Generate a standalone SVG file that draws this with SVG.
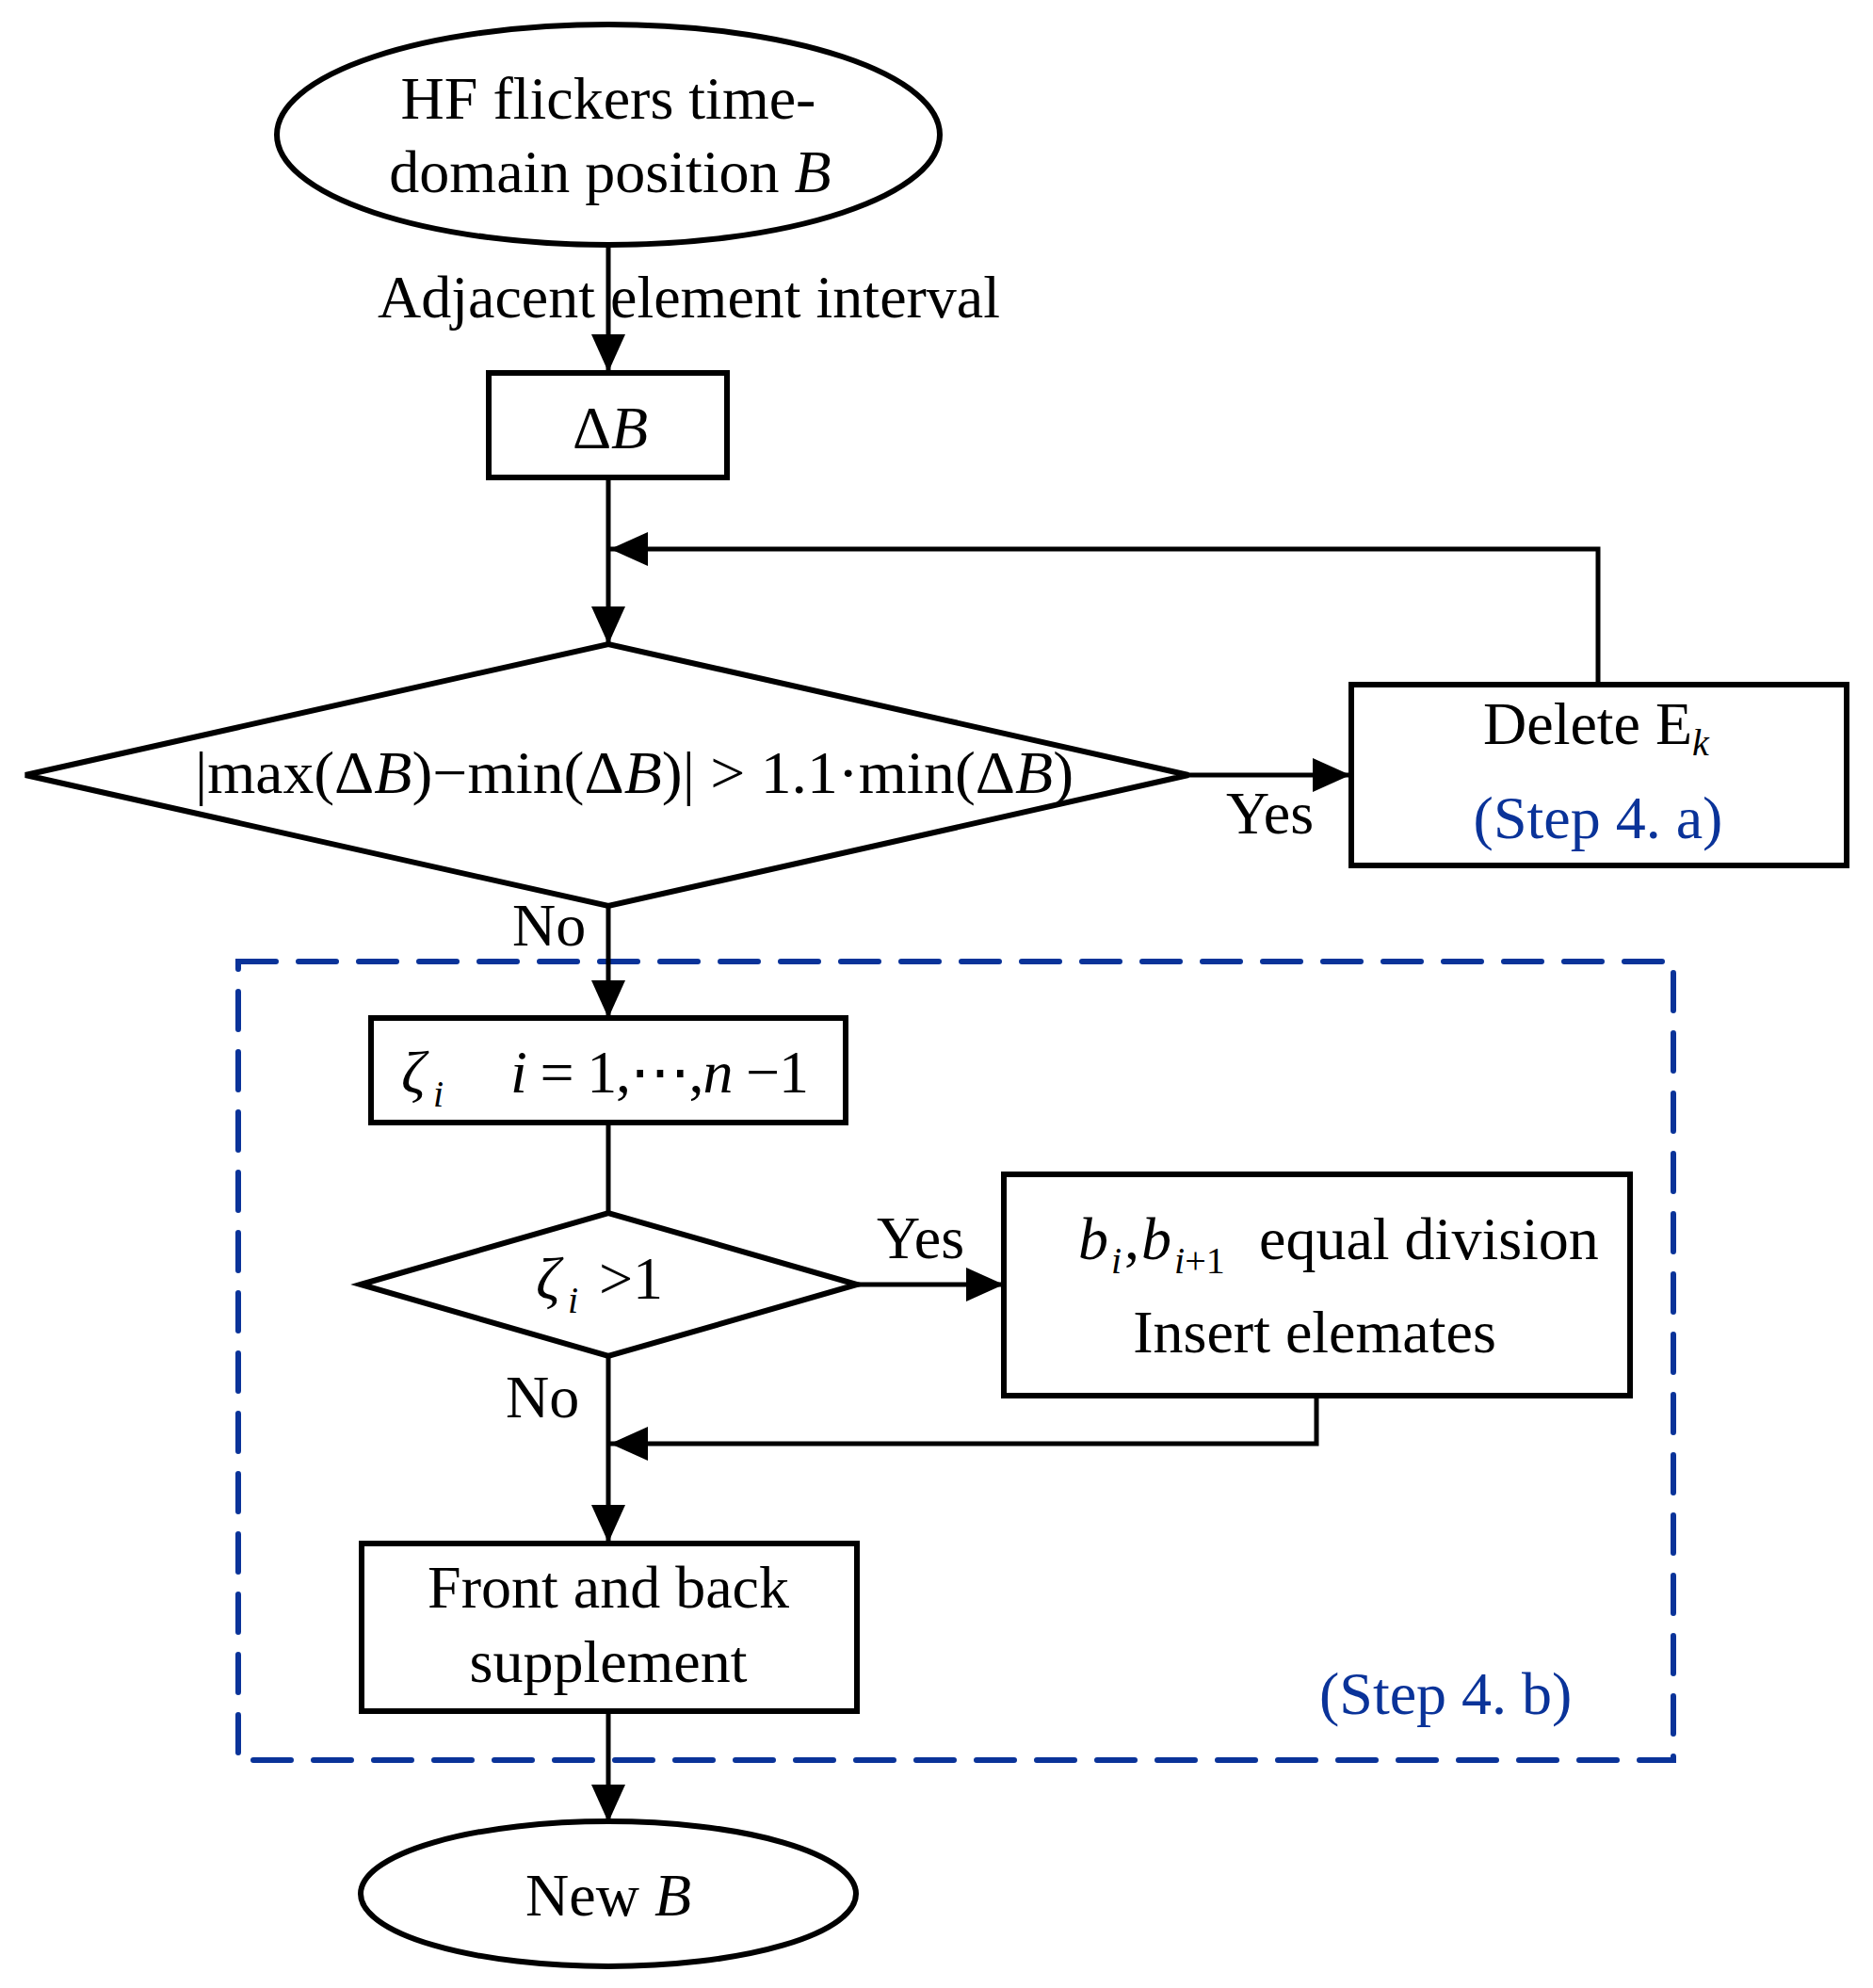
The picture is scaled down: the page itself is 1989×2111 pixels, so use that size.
<svg xmlns="http://www.w3.org/2000/svg" width="1989" height="2111" viewBox="0 0 1989 2111">
<style>
  .shape { fill: #ffffff; stroke: #000000; stroke-width: 6; }
  .conn { fill: none; stroke: #000000; stroke-width: 5; }
  .t { font-family: "Liberation Serif", "Times New Roman", serif; font-size: 64px; fill: #000000; }
  .it { font-style: italic; }
  .sub { font-family: "Liberation Serif", "Times New Roman", serif; font-size: 40px; font-style: italic; fill: #000000; }
  .blue { fill: #0a3399; }
  .group { fill: none; stroke: #0a3399; stroke-width: 6; stroke-dasharray: 40 24; stroke-linecap: round; }
</style>
<defs>
  <marker id="arrow" markerUnits="userSpaceOnUse" markerWidth="40" markerHeight="36" refX="40" refY="18" orient="auto">
    <path d="M0,0 L40,18 L0,36 z" fill="#000000"/>
  </marker>
</defs>
<rect width="1989" height="2111" fill="#ffffff"/>

<g id="step4b-group">
  <rect class="group" x="253" y="1021" width="1524" height="848"/>
  <text class="t blue" x="1401" y="1820">(Step 4. b)</text>
</g>

<g id="connectors">
  <line class="conn" x1="646" y1="261" x2="646" y2="395" marker-end="url(#arrow)"/>
  <line class="conn" x1="646" y1="507" x2="646" y2="684" marker-end="url(#arrow)"/>
  <polyline class="conn" points="1697,727 1697,583 648,583" marker-end="url(#arrow)"/>
  <line class="conn" x1="1262" y1="823" x2="1434" y2="823" marker-end="url(#arrow)"/>
  <line class="conn" x1="646" y1="962" x2="646" y2="1081" marker-end="url(#arrow)"/>
  <line class="conn" x1="646" y1="1192" x2="646" y2="1288"/>
  <line class="conn" x1="910" y1="1364" x2="1066" y2="1364" marker-end="url(#arrow)"/>
  <line class="conn" x1="646" y1="1440" x2="646" y2="1638" marker-end="url(#arrow)"/>
  <polyline class="conn" points="1398,1482 1398,1533 648,1533" marker-end="url(#arrow)"/>
  <line class="conn" x1="646" y1="1818" x2="646" y2="1935" marker-end="url(#arrow)"/>
  <text class="t" x="401" y="337">Adjacent element interval</text>
  <text class="t" x="1302" y="885">Yes</text>
  <text class="t" x="544" y="1004">No</text>
  <text class="t" x="931" y="1336">Yes</text>
  <text class="t" x="537" y="1505">No</text>
</g>

<g id="start">
  <ellipse class="shape" cx="646" cy="143" rx="352" ry="117"/>
  <text class="t" x="646" y="126" text-anchor="middle">HF flickers time-</text>
  <text class="t" x="648" y="204" text-anchor="middle">domain position <tspan class="it">B</tspan></text>
</g>

<g id="deltaB">
  <rect class="shape" x="519" y="396" width="253" height="111"/>
  <text class="t" x="648" y="476" text-anchor="middle">Δ<tspan class="it">B</tspan></text>
</g>

<g id="decision1">
  <polygon class="shape" points="27,823 646,684 1262,823 646,962"/>
  <text class="t" x="207" y="842" textLength="933" lengthAdjust="spacingAndGlyphs">|max(Δ<tspan class="it">B</tspan>)−min(Δ<tspan class="it">B</tspan>)| &gt; 1.1·min(Δ<tspan class="it">B</tspan>)</text>
</g>

<g id="delete">
  <rect class="shape" x="1435" y="727" width="526" height="192"/>
  <text class="t" x="1575" y="790">Delete E<tspan class="sub" dy="12">k</tspan></text>
  <text class="t blue" x="1697" y="890" text-anchor="middle">(Step 4. a)</text>
</g>

<g id="zeta">
  <rect class="shape" x="394" y="1081" width="504" height="111"/>
  <text class="t it" x="426" y="1160">ζ</text>
  <text class="sub" x="460" y="1175">i</text>
  <text class="t" x="542" y="1160" textLength="317" lengthAdjust="spacing"><tspan class="it">i</tspan> = 1,⋯,<tspan class="it">n</tspan> −1</text>
</g>

<g id="decision2">
  <polygon class="shape" points="383,1364 646,1288 910,1364 646,1440"/>
  <text class="t it" x="569" y="1379">ζ</text>
  <text class="sub" x="603" y="1394">i</text>
  <text class="t" x="636" y="1379">&gt;1</text>
</g>

<g id="insert">
  <rect class="shape" x="1066" y="1247" width="665" height="235"/>
  <text class="t it" x="1145" y="1337">b</text>
  <text class="sub" x="1180" y="1352">i</text>
  <text class="t" x="1194" y="1337">,</text>
  <text class="t it" x="1212" y="1337">b</text>
  <text class="sub" x="1247" y="1352">i<tspan font-style="normal">+1</tspan></text>
  <text class="t" x="1337" y="1337">equal division</text>
  <text class="t" x="1396" y="1436" text-anchor="middle">Insert elemates</text>
</g>

<g id="front-back">
  <rect class="shape" x="384" y="1639" width="526" height="178"/>
  <text class="t" x="646" y="1707" text-anchor="middle">Front and back</text>
  <text class="t" x="646" y="1786" text-anchor="middle">supplement</text>
</g>

<g id="end">
  <ellipse class="shape" cx="646" cy="2011" rx="263" ry="77"/>
  <text class="t" x="646" y="2034" text-anchor="middle">New <tspan class="it">B</tspan></text>
</g>
</svg>
